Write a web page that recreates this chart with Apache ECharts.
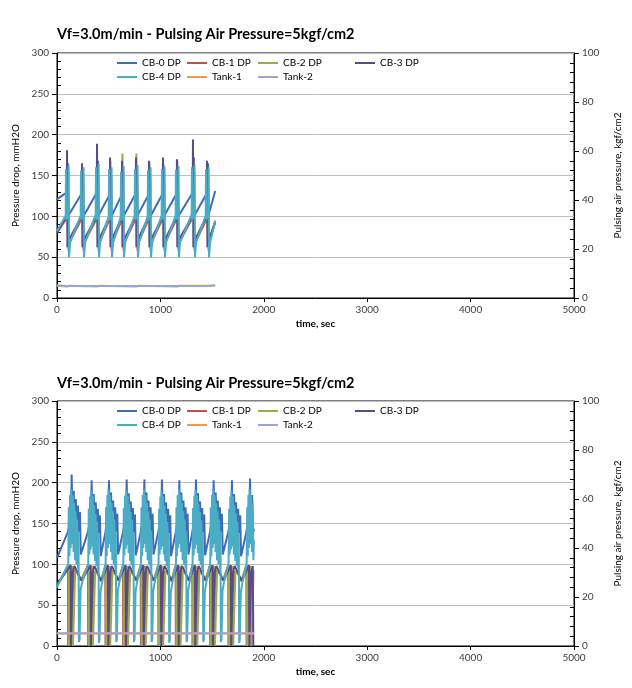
<!DOCTYPE html>
<html><head><meta charset="utf-8">
<script src="https://cdn.jsdelivr.net/npm/echarts@6/dist/echarts.min.js"></script>
<style>html,body{margin:0;padding:0;background:#fff}#c{width:632px;height:688px}</style>
</head><body><div id="c"></div>
<script>
// ---- Data (flat [t, v, t, v, ...]) ----
const titleText = 'Vf=3.0m/min - Pulsing Air Pressure=5kgf/cm2';
const seriesNames = ['CB-0 DP','CB-1 DP','CB-2 DP','CB-3 DP','CB-4 DP','Tank-1','Tank-2'];
const xTicks = [0,1000,2000,3000,4000,5000];
const leftTicks = [0,50,100,150,200,250,300];
const rightTicks = [0,20,40,60,80,100];

// Top panel
const top_cb0 = [0,121, 104,130,107,165,111,101, 249,130,252,152,256,100, 394,131,397,168,401,101, 520,129,523,150,527,100, 636,129,639,155,643,100, 771,130,774,160,778,101, 897,129,900,155,904,100, 1032,130,1035,158,1039,101, 1167,130,1170,150,1174,100, 1322,131,1325,172,1329,101, 1458,130,1461,165,1465,101, 1530,131];
const top_cb1 = [0,80, 106,100,108,150,112,58,119,68, 251,100,253,148,257,58,264,68, 396,100,398,152,402,58,409,68, 522,100,524,150,528,58,535,68, 638,99,640,155,644,58,651,68, 773,100,775,150,779,58,786,68, 899,100,901,148,905,58,912,68, 1034,100,1036,152,1040,58,1047,68, 1169,100,1171,150,1175,58,1182,68, 1324,101,1326,155,1330,58,1337,68, 1460,100,1462,150,1466,58,1473,68, 1530,93];
const top_cb2 = [0,81, 99,100,101,165,105,64,113,70, 244,100,246,160,250,64,258,70, 389,100,391,165,395,64,403,70, 515,100,517,168,521,64,529,70, 631,99,633,177,637,64,645,70, 766,100,768,177,772,64,780,70, 892,100,894,166,898,64,906,70, 1027,100,1029,165,1033,64,1041,70, 1162,100,1164,168,1168,64,1176,70, 1317,101,1319,170,1323,64,1331,70, 1453,100,1455,160,1459,64,1467,70, 1530,94];
const top_cb3 = [0,80, 94,100,97,181,101,62,111,70, 239,100,242,165,246,62,256,70, 384,100,387,189,391,62,401,70, 510,100,513,172,517,62,527,70, 626,99,629,168,633,62,643,70, 761,100,764,172,768,62,778,70, 887,100,890,168,894,62,904,70, 1022,100,1025,172,1029,62,1039,70, 1157,100,1160,170,1164,62,1174,70, 1312,101,1315,194,1319,62,1329,70, 1448,100,1451,168,1455,62,1465,70, 1530,93];
const top_cb4 = [0,82, 84,101,87,158,90,96,109,101,112,162,116,50,127,68, 229,101,232,156,235,96,254,101,257,160,261,50,272,68, 374,102,377,160,380,96,399,101,402,164,406,50,417,68, 500,100,503,158,506,95,525,100,528,160,532,50,543,68, 616,99,619,155,622,95,641,100,644,162,648,50,659,68, 751,101,754,158,757,96,776,101,779,163,783,50,794,68, 877,100,880,156,883,95,902,100,905,160,909,50,920,68, 1012,101,1015,158,1018,96,1037,101,1040,161,1044,50,1055,68, 1147,101,1150,157,1153,96,1172,101,1175,162,1179,50,1190,68, 1302,102,1305,160,1308,96,1327,101,1330,163,1334,50,1345,68, 1438,101,1441,158,1444,96,1463,100,1466,160,1470,50,1481,68, 1530,95];
const top_tank1 = [0,5.0, 97,4.7, 120,5.0, 387,4.7, 410,5.0, 764,4.7, 787,5.0, 1160,4.7, 1183,5.0, 1530,5.0];
const top_tank2 = [0,5.2, 97,4.9, 115,5.2, 242,4.9, 260,5.2, 387,4.9, 405,5.2, 513,4.9, 531,5.2, 629,4.9, 647,5.2, 764,4.9, 782,5.2, 890,4.9, 908,5.2, 1025,4.9, 1043,5.2, 1160,4.9, 1178,5.2, 1315,4.9, 1333,5.2, 1451,4.9, 1469,5.2, 1530,5.2];

// Bottom panel
const bot_cb0 = [0,108, 107,140,122,152,128,122,136,165,142,210,150,148,162,190,170,146,182,180,190,142,202,172,210,140,222,164,230,112, 300,140,315,150,321,120,329,162,335,203,343,146,355,186,363,145,375,176,383,140,395,168,403,138,415,160,423,110, 468,139,483,152,489,122,497,166,503,203,511,148,523,188,531,146,543,178,551,142,563,170,571,140,583,162,591,112, 639,140,654,151,660,121,668,164,674,204,682,147,694,187,702,145,714,177,722,141,734,169,742,139,754,161,762,111, 810,140,825,152,831,122,839,165,845,204,853,148,865,188,873,146,885,178,893,142,905,170,913,140,925,162,933,112, 980,140,995,150,1001,120,1009,163,1015,204,1023,146,1035,186,1043,145,1055,176,1063,140,1075,168,1083,138,1095,160,1103,110, 1148,139,1163,152,1169,122,1177,165,1183,203,1191,148,1203,188,1211,146,1223,178,1231,142,1243,170,1251,140,1263,162,1271,112, 1309,140,1324,151,1330,121,1338,164,1344,204,1352,147,1364,187,1372,145,1384,177,1392,141,1404,169,1412,139,1424,161,1432,111, 1480,140,1495,152,1501,122,1509,165,1515,203,1523,148,1535,188,1543,146,1555,178,1563,142,1575,170,1583,140,1595,162,1603,112, 1657,140,1672,150,1678,120,1686,163,1692,203,1700,146,1712,186,1720,145,1732,176,1740,140,1752,168,1760,138,1772,160,1780,110, 1832,140,1847,152,1853,122,1861,165,1867,205,1875,148,1887,185,1895,146,1905,140];
const bot_cb1 = [0,73, 106,99,108,0,114,0,126,88,138,97,144,0,150,0,166,92,202,90,232,80, 299,99,301,0,307,0,319,87,331,96,337,0,343,0,359,91,395,89,425,79, 467,99,469,0,475,0,487,88,499,97,505,0,511,0,527,92,563,90,593,80, 638,99,640,0,646,0,658,88,670,97,676,0,682,0,698,92,734,90,764,80, 809,99,811,0,817,0,829,88,841,97,847,0,853,0,869,92,905,90,935,80, 979,99,981,0,987,0,999,87,1011,96,1017,0,1023,0,1039,91,1075,89,1105,79, 1147,99,1149,0,1155,0,1167,88,1179,97,1185,0,1191,0,1207,92,1243,90,1273,80, 1308,99,1310,0,1316,0,1328,88,1340,97,1346,0,1352,0,1368,92,1404,90,1434,80, 1479,99,1481,0,1487,0,1499,88,1511,97,1517,0,1523,0,1539,92,1575,90,1605,80, 1656,99,1658,0,1664,0,1676,87,1688,96,1694,0,1700,0,1716,91,1752,89,1782,79, 1831,99,1833,0,1839,0,1851,88,1863,97,1869,0,1875,0,1891,92,1905,91];
const bot_cb2 = [0,74, 112,99,114,0,120,0,132,90,148,98,154,0,160,0,176,92,202,88,232,80, 305,99,307,0,313,0,325,90,341,98,347,0,353,0,369,92,395,88,425,80, 473,99,475,0,481,0,493,90,509,98,515,0,521,0,537,92,563,88,593,80, 644,99,646,0,652,0,664,90,680,98,686,0,692,0,708,92,734,88,764,80, 815,99,817,0,823,0,835,90,851,98,857,0,863,0,879,92,905,88,935,80, 985,99,987,0,993,0,1005,90,1021,98,1027,0,1033,0,1049,92,1075,88,1105,80, 1153,99,1155,0,1161,0,1173,90,1189,98,1195,0,1201,0,1217,92,1243,88,1273,80, 1314,99,1316,0,1322,0,1334,90,1350,98,1356,0,1362,0,1378,92,1404,88,1434,80, 1485,99,1487,0,1493,0,1505,90,1521,98,1527,0,1533,0,1549,92,1575,88,1605,80, 1662,99,1664,0,1670,0,1682,90,1698,98,1704,0,1710,0,1726,92,1752,88,1782,80, 1837,99,1839,0,1845,0,1857,90,1873,98,1879,0,1885,0,1901,92,1905,92];
const bot_cb3 = [0,75, 132,99,134,0,139,0,152,90,168,98,192,92,217,85,237,80, 325,99,327,0,332,0,345,90,361,98,385,92,410,85,430,80, 493,99,495,0,500,0,513,90,529,98,553,92,578,85,598,80, 664,99,666,0,671,0,684,90,700,98,724,92,749,85,769,80, 835,99,837,0,842,0,855,90,871,98,895,92,920,85,940,80, 1005,99,1007,0,1012,0,1025,90,1041,98,1065,92,1090,85,1110,80, 1173,99,1175,0,1180,0,1193,90,1209,98,1233,92,1258,85,1278,80, 1334,99,1336,0,1341,0,1354,90,1370,98,1394,92,1419,85,1439,80, 1505,99,1507,0,1512,0,1525,90,1541,98,1565,92,1590,85,1610,80, 1682,99,1684,0,1689,0,1702,90,1718,98,1742,92,1767,85,1787,80, 1857,99,1859,0,1864,0,1877,90,1893,98,1899,0,1905,0];
const bot_cb4 = [0,72, 109,100,114,170,120,110,126,185,132,120,138,192,146,125,152,185,160,115,166,175,174,105,180,165,188,100,194,155,202,95,208,140,212,5,218,8,228,68,242,78, 302,100,307,168,313,112,319,183,325,118,331,190,339,122,345,183,353,112,359,172,367,104,373,162,381,98,387,152,395,94,401,138,405,4,411,8,421,66,435,77, 470,99,475,170,481,110,487,185,493,120,499,192,507,125,513,185,521,115,527,175,535,105,541,165,549,100,555,155,563,95,569,140,573,5,579,8,589,68,603,78, 641,100,646,169,652,111,658,184,664,119,670,191,678,124,684,184,692,114,698,174,706,104,712,164,720,99,726,154,734,94,740,139,744,5,750,8,760,67,774,78, 812,100,817,170,823,110,829,185,835,120,841,192,849,125,855,185,863,115,869,175,877,105,883,165,891,100,897,155,905,95,911,140,915,5,921,8,931,68,945,78, 982,100,987,168,993,112,999,183,1005,118,1011,190,1019,122,1025,183,1033,112,1039,172,1047,104,1053,162,1061,98,1067,152,1075,94,1081,138,1085,4,1091,8,1101,66,1115,77, 1150,99,1155,170,1161,110,1167,185,1173,120,1179,192,1187,125,1193,185,1201,115,1207,175,1215,105,1221,165,1229,100,1235,155,1243,95,1249,140,1253,5,1259,8,1269,68,1283,78, 1311,100,1316,169,1322,111,1328,184,1334,119,1340,191,1348,124,1354,184,1362,114,1368,174,1376,104,1382,164,1390,99,1396,154,1404,94,1410,139,1414,5,1420,8,1430,67,1444,78, 1482,100,1487,170,1493,110,1499,185,1505,120,1511,192,1519,125,1525,185,1533,115,1539,175,1547,105,1553,165,1561,100,1567,155,1575,95,1581,140,1585,5,1591,8,1601,68,1615,78, 1659,100,1664,168,1670,112,1676,183,1682,118,1688,190,1696,122,1702,183,1710,112,1716,172,1724,104,1730,162,1738,98,1744,152,1752,94,1758,138,1762,4,1768,8,1778,66,1792,77, 1834,100,1839,170,1845,110,1851,185,1857,120,1863,192,1871,125,1877,185,1885,115,1891,175,1899,105,1905,130];
const bot_tank1 = [0,5.1, 600,5.1, 1200,5.1, 1905,5.1];
const bot_tank2 = [0,5.2, 500,5.2, 1000,5.2, 1500,5.2, 1905,5.2];

const colors = ['#3d6db5','#c0504d','#9bab4e','#5b4a86','#4bacc6','#f79646','#95a8dc'];

function pairs(a){const o=[];for(let i=0;i<a.length;i+=2)o.push([a[i],a[i+1]]);return o;}

const FONT = 'Lato, "Open Sans", sans-serif';
const panels = [
  {top:53, titleTop:22, data:[top_cb0,top_cb1,top_cb2,top_cb3,top_cb4,top_tank1,top_tank2]},
  {top:401, titleTop:371, data:[bot_cb0,bot_cb1,bot_cb2,bot_cb3,bot_cb4,bot_tank1,bot_tank2]}
];
const H = 245;

const option = {
  animation:false,
  backgroundColor:'#fff',
  textStyle:{fontFamily:FONT},
  title:[], legend:[], grid:[], xAxis:[], yAxis:[], series:[]
};

const legendCols = [
  {left:112, names:['CB-0 DP','CB-4 DP']},
  {left:182, names:['CB-1 DP','Tank-1']},
  {left:253, names:['CB-2 DP','Tank-2']},
  {left:350, names:['CB-3 DP']}
];

const numFmt = v => String(v);

panels.forEach((p, pi) => {
  option.title.push({text:titleText, left:52, top:p.titleTop,
    textStyle:{fontFamily:FONT, fontSize:14.5, fontWeight:'bold', color:'#000'}});
  option.grid.push({left:57, width:517, top:p.top, height:H, show:true, borderColor:'#000', borderWidth:1, backgroundColor:'transparent'});
  legendCols.forEach(c => {
    option.legend.push({data:c.names, orient:'vertical', left:c.left, top:p.top, itemGap:4,
      icon:'rect', itemWidth:20, itemHeight:2, selectedMode:false,
      textStyle:{fontFamily:FONT, fontSize:10, color:'#000'}});
  });
  option.xAxis.push({type:'value', gridIndex:pi, min:0, max:5000, interval:1000,
    name:'time, sec', nameLocation:'middle', nameGap:21,
    nameTextStyle:{fontFamily:FONT, fontSize:10, fontWeight:'bold', color:'#000'},
    axisLine:{show:true, lineStyle:{color:'#000', width:1}},
    axisTick:{show:true, length:4, lineStyle:{color:'#000'}},
    axisLabel:{fontFamily:FONT, fontSize:10, color:'#404040', margin:7, formatter:numFmt},
    splitLine:{show:false}});
  option.yAxis.push({type:'value', gridIndex:pi, min:0, max:300, interval:50, position:'left',
    name:'Pressure drop, mmH2O', nameLocation:'middle', nameGap:32,
    nameTextStyle:{fontFamily:FONT, fontSize:10, color:'#000'},
    axisLine:{show:true, lineStyle:{color:'#000', width:1}},
    axisTick:{show:true, length:5, lineStyle:{color:'#000'}},
    axisLabel:{fontFamily:FONT, fontSize:10, color:'#404040', margin:8, formatter:numFmt},
    splitLine:{show:true, lineStyle:{color:'#bfbfbf', width:1}}});
  option.yAxis.push({type:'value', gridIndex:pi, min:0, max:100, interval:20, position:'right',
    name:'Pulsing air pressure, kgf/cm2', nameLocation:'middle', nameGap:39,
    nameTextStyle:{fontFamily:FONT, fontSize:10, color:'#000'},
    axisLine:{show:true, lineStyle:{color:'#000', width:1}},
    axisTick:{show:true, length:5, lineStyle:{color:'#000'}},
    axisLabel:{fontFamily:FONT, fontSize:10, color:'#404040', margin:8, formatter:numFmt},
    splitLine:{show:false}});
  option.yAxis.push({type:'value', gridIndex:pi, min:0, max:300, interval:50, position:'left',
    axisLine:{show:false}, axisLabel:{show:false}, splitLine:{show:false},
    axisTick:{show:true, inside:true, length:0.01, lineStyle:{color:'#000'}},
    minorTick:{show:true, splitNumber:5, length:4, lineStyle:{color:'#000'}}});
  option.yAxis.push({type:'value', gridIndex:pi, min:0, max:100, interval:20, position:'right',
    axisLine:{show:false}, axisLabel:{show:false}, splitLine:{show:false},
    axisTick:{show:true, inside:true, length:0.01, lineStyle:{color:'#000'}},
    minorTick:{show:true, splitNumber:5, length:4, lineStyle:{color:'#000'}}});
  p.data.forEach((arr, si) => {
    const isTank = si >= 5;
    option.series.push({name:seriesNames[si], type:'line', xAxisIndex:pi,
      yAxisIndex: pi*4 + (isTank ? 1 : 0),
      data:pairs(arr), showSymbol:false, symbol:'none', silent:true,
      color:colors[si],
      lineStyle:{color:colors[si], width:2}});
  });
});

const chart = echarts.init(document.getElementById('c'), null, {renderer:'canvas'});
chart.setOption(option);
</script></body></html>
